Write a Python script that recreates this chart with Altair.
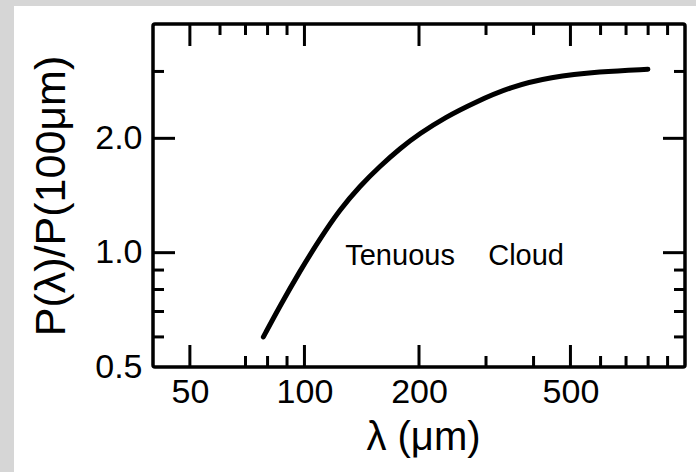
import altair as alt
import pandas as pd

# Polarization spectrum of a tenuous cloud, normalised at 100 micron
wavelength_um = [78, 86, 97, 110, 124, 140, 158, 178, 201, 234, 281, 347, 442, 598, 799]
polarization_ratio = [0.60, 0.72, 0.89, 1.09, 1.30, 1.50, 1.69, 1.88, 2.06, 2.27, 2.49, 2.73, 2.90, 3.00, 3.04]

# Axis tick positions
x_major = [50, 100, 200, 500]
x_minor_bottom = [70, 80, 90, 300, 400, 600, 700, 800, 900]
x_minor_top = [60, 70, 80, 90, 300, 400, 600, 700, 800, 900]
y_labels = [0.5, 1.0, 2.0]
y_major = [1.0, 2.0]
y_minor = [0.6, 0.7, 0.8, 0.9, 3.0]

W, H = 532, 343
MAJOR, MINOR = 22, 11
FONT = "Liberation Sans"

curve = pd.DataFrame({"wavelength": wavelength_um, "ratio": polarization_ratio})
one_row = pd.DataFrame({"k": [0]})

x_scale = alt.Scale(type="log", domain=[40, 1000], nice=False)
y_scale = alt.Scale(type="log", domain=[0.5, 4], nice=False)

x_axis = alt.Axis(
    values=x_major, format="d", ticks=False, domain=False, grid=False,
    labelFont=FONT, labelFontSize=34, labelColor="black", labelPadding=8,
    labelFlush=False, labelOverlap=False,
    title="λ (μm)", titleFont=FONT, titleFontSize=40, titleFontWeight="normal",
    titleColor="black", titleX=270, titleY=82, titleAlign="center",
    titleBaseline="alphabetic", zindex=1,
)
y_axis = alt.Axis(
    values=y_labels, format=".1f", ticks=False, domain=False, grid=False,
    labelFont=FONT, labelFontSize=34, labelColor="black", labelPadding=11,
    labelFlush=False, labelOverlap=False,
    title="P(λ)/P(100μm)", titleFont=FONT, titleFontSize=43, titleFontWeight="normal",
    titleColor="black", titleX=-102, titleY=H / 2, titleAngle=270,
    titleAlign="center", titleBaseline="middle", zindex=1,
)

x_enc = alt.X("wavelength:Q", scale=x_scale, axis=x_axis)
y_enc = alt.Y("ratio:Q", scale=y_scale, axis=y_axis)

# white paper behind the whole figure
paper = alt.Chart(one_row).mark_rect(color="white").encode(
    x=alt.value(-139), x2=alt.value(W + 11), y=alt.value(-18), y2=alt.value(H + 105)
)

frame = alt.Chart(one_row).mark_rect(
    filled=False, stroke="black", strokeWidth=3.5, cornerRadius=2
).encode(x=alt.value(0), x2=alt.value(W), y=alt.value(0), y2=alt.value(H))


def x_ticks(values, length, top):
    y0 = 0 if top else H
    y1 = length if top else H - length
    return alt.Chart(pd.DataFrame({"wavelength": values})).mark_rule(
        color="black", strokeWidth=3
    ).encode(x=x_enc, y=alt.value(y0), y2=alt.value(y1))


def y_ticks(values, length, right):
    x0 = W if right else 0
    x1 = W - length if right else length
    return alt.Chart(pd.DataFrame({"ratio": values})).mark_rule(
        color="black", strokeWidth=3
    ).encode(y=y_enc, x=alt.value(x0), x2=alt.value(x1))


line = alt.Chart(curve).mark_line(
    color="black", strokeWidth=5, interpolate="basis", strokeCap="round"
).encode(x=x_enc, y=y_enc)

word_style = dict(font=FONT, fontSize=29, align="left", baseline="alphabetic", color="black")
label_word1 = alt.Chart(one_row).mark_text(text="Tenuous", **word_style).encode(
    x=alt.datum(128, scale=x_scale), y=alt.datum(0.93, scale=y_scale)
)
label_word2 = alt.Chart(one_row).mark_text(text="Cloud", **word_style).encode(
    x=alt.datum(304, scale=x_scale), y=alt.datum(0.93, scale=y_scale)
)

chart = alt.layer(
    paper,
    frame,
    x_ticks(x_major, MAJOR, False),
    x_ticks(x_minor_bottom, MINOR, False),
    x_ticks(x_major, MAJOR, True),
    x_ticks(x_minor_top, MINOR, True),
    y_ticks(y_major, MAJOR, False),
    y_ticks(y_minor, MINOR, False),
    y_ticks(y_major, MAJOR, True),
    y_ticks(y_minor, MINOR, True),
    line,
    label_word1,
    label_word2,
).properties(
    width=W, height=H,
    background="#d6d6d6",
    padding={"left": 153, "top": 24, "right": 11, "bottom": 105},
    autosize=alt.AutoSizeParams(type="none"),
).configure_view(stroke=None)

chart.save("out.html", embed_options={"renderer": "svg", "actions": False})
